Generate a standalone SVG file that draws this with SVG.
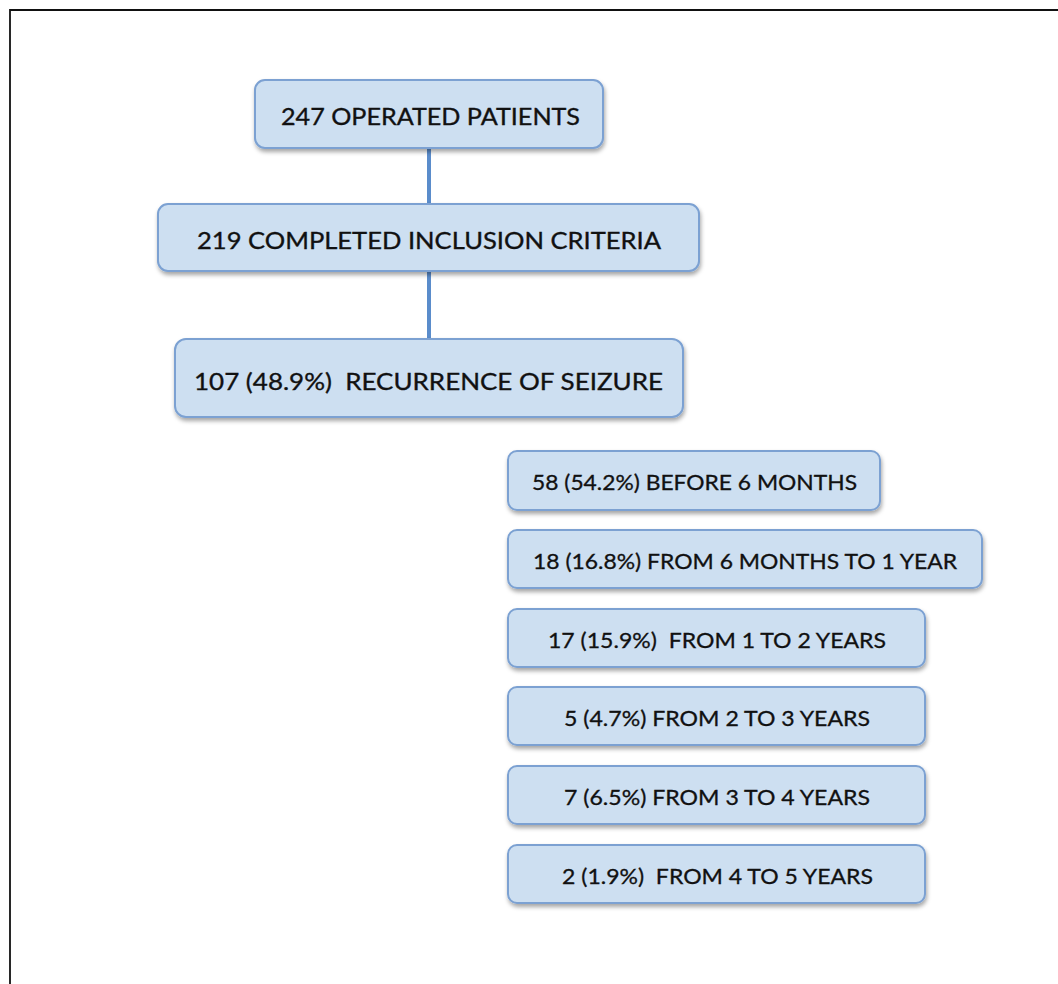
<svg xmlns="http://www.w3.org/2000/svg" width="1058" height="984" viewBox="0 0 1058 984">
<defs>
<filter id="sh" x="-10%" y="-20%" width="120%" height="150%">
<feDropShadow dx="1" dy="3" stdDeviation="2" flood-color="#000" flood-opacity="0.35"/>
</filter>
</defs>
<style>
.box{fill:#cddff1;stroke:#7ba1d2;stroke-width:2;filter:url(#sh)}
.big{font-family:Lato,"Liberation Sans",sans-serif;font-size:23.5px;fill:#111;stroke:#111;stroke-width:0.35;text-anchor:middle}
.sm{font-family:Lato,"Liberation Sans",sans-serif;font-size:20.5px;fill:#111;stroke:#111;stroke-width:0.3;text-anchor:middle}
.conn{stroke:#5a8ccb;stroke-width:4;fill:none}
</style>
<rect x="0" y="0" width="1058" height="984" fill="#fff"/>
<path d="M10,1000 V10 H1070" fill="none" stroke="#111" stroke-width="1.8"/>
<g id="connectors">
<line class="conn" x1="429" y1="148" x2="429" y2="205"/>
<line class="conn" x1="429" y1="271" x2="429" y2="340"/>
</g>
<g id="n1"><rect class="box" x="255" y="80" width="348" height="68" rx="10"/><text class="big" x="430.5" y="125" textLength="299" lengthAdjust="spacingAndGlyphs">247 OPERATED PATIENTS</text></g>
<g id="n2"><rect class="box" x="158" y="204" width="541" height="67" rx="10"/><text class="big" x="429" y="249" textLength="464" lengthAdjust="spacingAndGlyphs">219 COMPLETED INCLUSION CRITERIA</text></g>
<g id="n3"><rect class="box" x="175" y="339" width="508" height="78" rx="11"/><text class="big" x="428.5" y="390" textLength="469" lengthAdjust="spacingAndGlyphs" xml:space="preserve">107 (48.9%)  RECURRENCE OF SEIZURE</text></g>
<g id="n4"><rect class="box" x="508" y="451" width="372" height="59" rx="9"/><text class="sm" x="694.5" y="490" textLength="325" lengthAdjust="spacingAndGlyphs">58 (54.2%) BEFORE 6 MONTHS</text></g>
<g id="n5"><rect class="box" x="508" y="530" width="474" height="58" rx="9"/><text class="sm" x="745" y="569" textLength="424" lengthAdjust="spacingAndGlyphs">18 (16.8%) FROM 6 MONTHS TO 1 YEAR</text></g>
<g id="n6"><rect class="box" x="508" y="609" width="417" height="58" rx="9"/><text class="sm" x="717" y="648" textLength="338" lengthAdjust="spacingAndGlyphs" xml:space="preserve">17 (15.9%)  FROM 1 TO 2 YEARS</text></g>
<g id="n7"><rect class="box" x="508" y="687" width="417" height="58" rx="9"/><text class="sm" x="717" y="726" textLength="306" lengthAdjust="spacingAndGlyphs">5 (4.7%) FROM 2 TO 3 YEARS</text></g>
<g id="n8"><rect class="box" x="508" y="766" width="417" height="58" rx="9"/><text class="sm" x="717" y="805" textLength="306" lengthAdjust="spacingAndGlyphs">7 (6.5%) FROM 3 TO 4 YEARS</text></g>
<g id="n9"><rect class="box" x="508" y="845" width="417" height="58" rx="9"/><text class="sm" x="717.5" y="884" textLength="311" lengthAdjust="spacingAndGlyphs" xml:space="preserve">2 (1.9%)  FROM 4 TO 5 YEARS</text></g>
</svg>
